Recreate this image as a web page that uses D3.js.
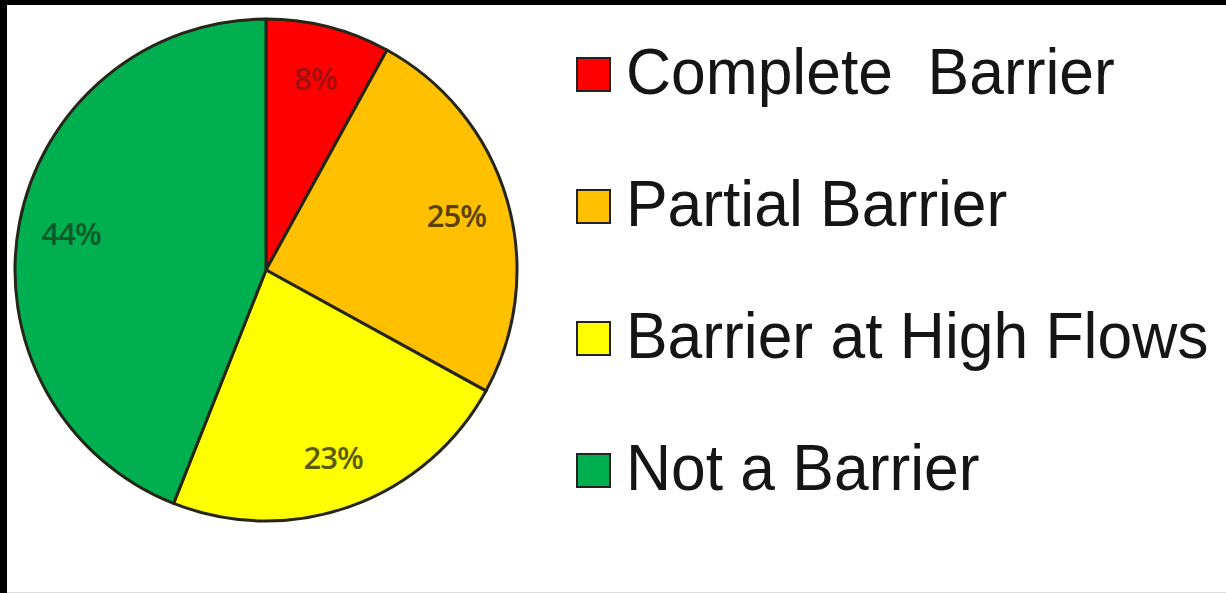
<!DOCTYPE html>
<html>
<head>
<meta charset="utf-8">
<script src="https://cdn.jsdelivr.net/npm/d3@7"></script>
<style>
  html, body { margin: 0; padding: 0; background: #000; }
  svg { display: block; }
</style>
</head>
<body>
<svg id="chart"></svg>
<script>
// barrier categories, share of sites (%)
const categories = ['Complete  Barrier', 'Partial Barrier', 'Barrier at High Flows', 'Not a Barrier'];
const values = [8, 25, 23, 44];
const labels = ['8%', '25%', '23%', '44%'];
const fills = ['#ff0000', '#ffc000', '#ffff00', '#00b050'];
const labelColors = ['#a01010', '#5a4300', '#5a5a00', '#0b5a2a'];

function pieChart() {
    const width = 1226;
    const height = 593;
    const cx = 266;
    const cy = 270;
    const radius = 251;

    const svg = d3.select('#chart')
        .attr('width', width)
        .attr('height', height);

    // white page on black frame
    svg.append('rect')
        .attr('x', 7)
        .attr('y', 5)
        .attr('width', width - 7)
        .attr('height', 587)
        .attr('fill', '#fff');
    svg.append('line')
        .attr('x1', 7).attr('x2', width)
        .attr('y1', 592.5).attr('y2', 592.5)
        .attr('stroke', '#ddd');

    const data = categories.map((c, i) => ({ name: c, value: values[i], label: labels[i], i: i }));

    const pie = d3.pie().sort(null).value((d) => d.value);
    const arc = d3.arc().innerRadius(0).outerRadius(radius);
    const labelArc = d3.arc().innerRadius(radius * 0.79).outerRadius(radius * 0.79);

    const g = svg.append('g')
        .attr('transform', `translate(${cx}, ${cy})`);

    const arcs = pie(data);

    g.selectAll('.slice')
        .data(arcs)
        .enter()
        .append('path')
        .attr('class', 'slice')
        .attr('d', arc)
        .attr('fill', (d) => fills[d.data.i])
        .attr('stroke', '#262618')
        .attr('stroke-width', 3)
        .attr('stroke-linejoin', 'round');

    g.selectAll('.lbl')
        .data(arcs)
        .enter()
        .append('text')
        .attr('class', 'lbl')
        .attr('transform', (d) => `translate(${labelArc.centroid(d)})`)
        .attr('text-anchor', 'middle')
        .attr('dominant-baseline', 'central')
        .style('font-family', '"Open Sans", "Noto Sans", sans-serif')
        .style('font-size', '31px')
        .style('font-weight', '600')
        .style('letter-spacing', '-1px')
        .attr('fill', (d) => labelColors[d.data.i])
        .text((d) => d.data.label);

    // legend
    const legendY = d3.scalePoint()
        .domain(categories)
        .range([75, 471]);

    const legend = svg.append('g')
        .attr('class', 'legend')
        .selectAll('.item')
        .data(data)
        .enter()
        .append('g')
        .attr('class', 'item')
        .attr('transform', (d) => `translate(576, ${legendY(d.name)})`);

    legend.append('rect')
        .attr('x', 1)
        .attr('y', -17)
        .attr('width', 33)
        .attr('height', 33)
        .attr('fill', (d) => fills[d.i])
        .attr('stroke', '#222')
        .attr('stroke-width', 2);

    legend.append('text')
        .attr('x', 52)
        .attr('y', 19)
        .attr('transform', 'scale(0.96, 1)')
        .style('font-family', '"Liberation Sans", Arial, sans-serif')
        .style('font-size', '65px')
        .style('white-space', 'pre')
        .attr('fill', '#151515')
        .text((d) => d.name);
}

pieChart();
</script>
</body>
</html>
